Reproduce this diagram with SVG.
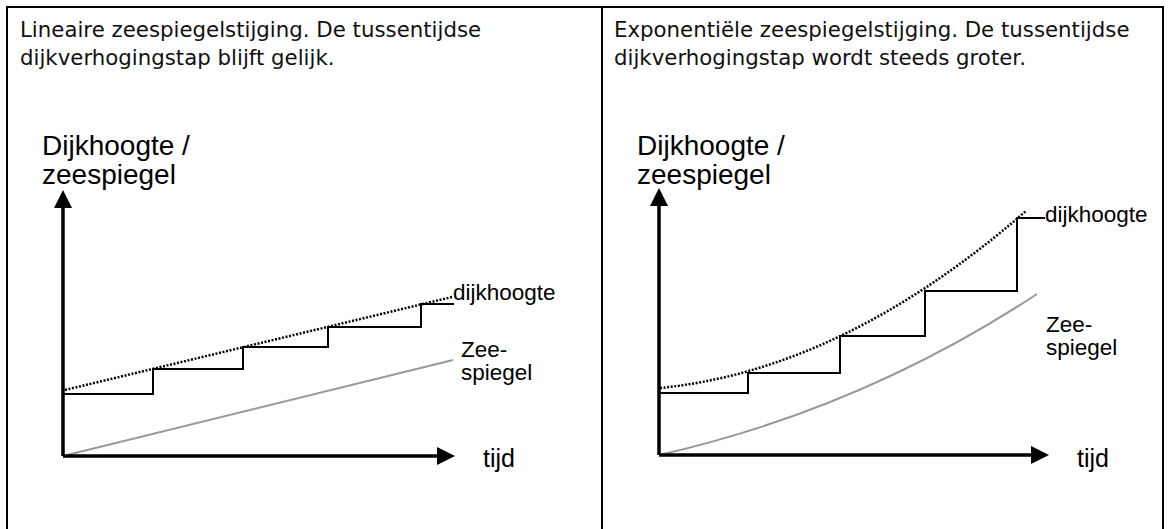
<svg xmlns="http://www.w3.org/2000/svg" width="1170" height="529" viewBox="0 0 1170 529">
<style>
.frame{fill:none;stroke:#000;stroke-width:2}
.title{font-family:"DejaVu Sans",Verdana,sans-serif;font-size:21.3px;fill:#111}
.lbl{font-family:"Liberation Sans",Arial,sans-serif;fill:#000}
.ax{font-size:28px}
.sm{font-size:22.5px}
.tj{font-size:25px}
.axis{stroke:#000;stroke-width:3.5;fill:none}
.step{stroke:#000;stroke-width:2;fill:none}
.dot{stroke:#000;stroke-width:2.5;fill:none;stroke-dasharray:2 1.6}
.sea{stroke:#999;stroke-width:2;fill:none}
</style>
<rect width="1170" height="529" fill="#fff"/>
<g id="frame">
<path class="frame" d="M7,529 V7 H1163 V529 M602,7 V529"/>
</g>
<g id="left-panel">
<text class="title" x="20" y="37">Lineaire zeespiegelstijging. De tussentijdse</text>
<text class="title" x="20" y="65">dijkverhogingstap blijft gelijk.</text>
<text class="lbl ax" x="42" y="155">Dijkhoogte /</text>
<text class="lbl ax" x="42" y="184">zeespiegel</text>
<text class="lbl sm" x="453" y="300">dijkhoogte</text>
<text class="lbl sm" x="461" y="357">Zee-</text>
<text class="lbl sm" x="461" y="380">spiegel</text>
<text class="lbl tj" x="483" y="467">tijd</text>
</g>
<g id="right-panel">
<text class="title" x="614" y="37">Exponentiële zeespiegelstijging. De tussentijdse</text>
<text class="title" x="614" y="65">dijkverhogingstap wordt steeds groter.</text>
<text class="lbl ax" x="637" y="155">Dijkhoogte /</text>
<text class="lbl ax" x="637" y="184">zeespiegel</text>
<text class="lbl sm" x="1045" y="222">dijkhoogte</text>
<text class="lbl sm" x="1046" y="332">Zee-</text>
<text class="lbl sm" x="1046" y="355">spiegel</text>
<text class="lbl tj" x="1077" y="467">tijd</text>
</g>
<g id="connectors">
<path class="sea" d="M63,456 L453,360"/>
<path class="step" d="M63,394 H153 V369 H243 V347 H328 V327 H421 V304 H454"/>
<path class="dot" d="M65,390 L452,297"/>
<path class="axis" d="M63,456 V204 M63,456 H440"/>
<polygon points="63,190 54,208 72,208"/>
<polygon points="455,456 437,447 437,465"/>
<path class="sea" d="M659,455 Q862,409 1037,294"/>
<path class="step" d="M659,393 H748 V373 H840 V336 H925 V291 H1017 V218 H1045"/>
<path class="dot" d="M660,388 Q843,370 1026,211"/>
<path class="axis" d="M659,455 V202 M659,455 H1034"/>
<polygon points="659,188 650,206 668,206"/>
<polygon points="1049,455 1031,446 1031,464"/>
</g>
</svg>
